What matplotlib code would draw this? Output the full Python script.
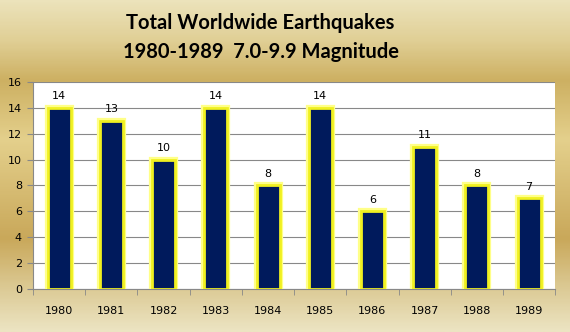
import numpy as np
import matplotlib
matplotlib.use("Agg")
import matplotlib.pyplot as plt
from matplotlib.colors import LinearSegmentedColormap

# data
years = ["1980", "1981", "1982", "1983", "1984", "1985", "1986", "1987", "1988", "1989"]
quakes = [14, 13, 10, 14, 8, 14, 6, 11, 8, 7]
y_ticks = [0, 2, 4, 6, 8, 10, 12, 14, 16]

fig = plt.figure(figsize=(5.7, 3.32), dpi=100)

# gold gradient background
bg = fig.add_axes([0, 0, 1, 1])
gold = LinearSegmentedColormap.from_list(
    "gold",
    [
        (0.0, "#ece3bb"),
        (0.12, "#e0cf95"),
        (0.24, "#cdb062"),
        (0.42, "#e4d08c"),
        (0.72, "#c9a85a"),
        (0.88, "#ddcc98"),
        (1.0, "#ece4c2"),
    ],
)
grad = np.linspace(0, 1, 300).reshape(-1, 1)
bg.imshow(grad, aspect="auto", cmap=gold, extent=[0, 1, 0, 1], origin="upper")
bg.axis("off")

fig.text(0.456, 0.93, "Total Worldwide Earthquakes", ha="center", va="center",
         fontsize=14.5, fontweight="bold", family="Lato", color="black")
fig.text(0.458, 0.842, "1980-1989  7.0-9.9 Magnitude", ha="center", va="center",
         fontsize=14.5, fontweight="bold", family="Lato", color="black")

ax = fig.add_axes([0.058, 0.13, 0.916, 0.623])
ax.set_facecolor("white")
x = np.arange(len(years))
# soft glow + yellow outline
ax.bar(x, quakes, width=0.44, color="#001a5c", edgecolor="#ffff88", linewidth=4.5, zorder=3)
ax.bar(x, quakes, width=0.44, color="#001a5c", edgecolor="#f0f020", linewidth=2, zorder=4)
for xi, v in zip(x, quakes):
    ax.text(xi, v + 0.5, str(v), ha="center", va="bottom", fontsize=8,
            family="DejaVu Sans", color="black", zorder=5)

ax.set_xlim(-0.5, len(years) - 0.5)
ax.set_ylim(0, 16)
ax.set_yticks(y_ticks)
ax.set_yticklabels([str(t) for t in y_ticks], fontsize=8)
ax.set_xticks(x)
ax.set_xticklabels(years, fontsize=8)
ax.tick_params(axis="x", length=0, pad=12)
ax.tick_params(axis="y", length=4, color="#888888", pad=4)
ax.set_xticks(np.arange(-0.5, len(years), 1), minor=True)
ax.tick_params(axis="x", which="minor", length=4, color="#888888")
ax.yaxis.grid(True, color="#888888", linewidth=0.8, zorder=0)
ax.set_axisbelow(True)
for side in ["top", "right"]:
    ax.spines[side].set_visible(False)
for side in ["left", "bottom"]:
    ax.spines[side].set_color("#888888")
    ax.spines[side].set_linewidth(0.8)

fig.savefig("out.png", dpi=100)
